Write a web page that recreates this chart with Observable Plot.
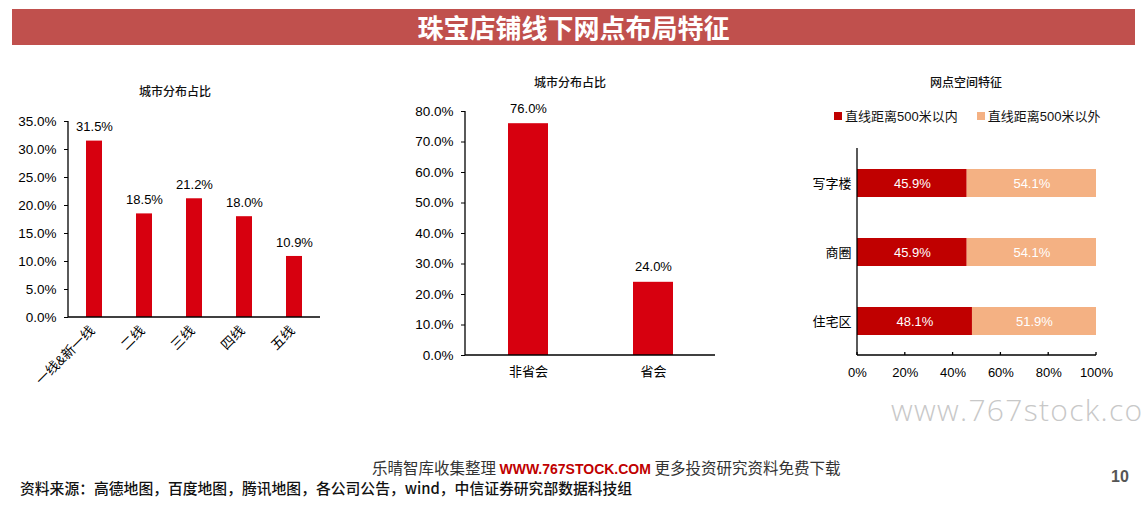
<!DOCTYPE html>
<html><head><meta charset="utf-8">
<script src="https://cdn.jsdelivr.net/npm/d3@7"></script>
<script src="https://cdn.jsdelivr.net/npm/@observablehq/plot@0.6"></script>
<style>
body{margin:0;width:1143px;height:507px;background:#fff;position:relative;overflow:hidden;font-family:"Liberation Sans","Noto Sans CJK SC",sans-serif;}
.abs{position:absolute;}
#banner{left:12px;top:9px;width:1123px;height:36px;background:#C0504D;color:#fff;font:bold 26px "Noto Sans CJK SC",sans-serif;text-align:center;line-height:36px;}
.ctitle{font:500 12px "Noto Sans CJK SC",sans-serif;color:#111;white-space:nowrap;transform:translateX(-50%);}
.legend{font:13px "Liberation Sans","Noto Sans CJK SC",sans-serif;color:#111;white-space:nowrap;display:flex;align-items:center;}
.sw{display:inline-block;width:8px;height:8px;margin-right:3px;}
svg text{font-family:"Liberation Sans","Noto Sans CJK SC",sans-serif;}
</style></head>
<body>
<div id="banner" class="abs">珠宝店铺线下网点布局特征</div>
<div class="abs ctitle" style="left:175px;top:82px;">城市分布占比</div>
<div class="abs ctitle" style="left:570px;top:73px;">城市分布占比</div>
<div class="abs ctitle" style="left:966px;top:73px;">网点空间特征</div>
<div class="abs legend" style="left:834px;top:106px;"><span class="sw" style="background:#C00000"></span>直线距离500米以内<span style="width:19px;display:inline-block"></span><span class="sw" style="background:#F4B183"></span>直线距离500米以外</div>
<div id="c1" class="abs" style="left:0;top:100px;"></div>
<div id="c2" class="abs" style="left:400px;top:95px;"></div>
<div id="c3" class="abs" style="left:780px;top:140px;"></div>
<div class="abs" style="left:891px;top:389px;font:300 30px 'Open Sans','DejaVu Sans',sans-serif;color:#c8c8c8;white-space:nowrap;letter-spacing:1.3px;">www.767stock.co</div>
<div class="abs" style="left:372px;top:456px;font:15.5px 'Noto Sans CJK SC',sans-serif;color:#333;white-space:nowrap;">乐晴智库收集整理 <b style="color:#C00000;font-family:'Liberation Sans',sans-serif;font-size:14px;">WWW.767STOCK.COM</b> 更多投资研究资料免费下载</div>
<div class="abs" style="left:20px;top:477px;font:500 14.8px 'Noto Sans CJK SC',sans-serif;color:#111;white-space:nowrap;">资料来源：高德地图，百度地图，腾讯地图，各公司公告，wind，中信证券研究部数据科技组</div>
<div class="abs" style="left:1111px;top:468px;font:bold 16px 'Liberation Sans',sans-serif;color:#555;">10</div>
<script>
// Chart 1 data
const tierCats = ["一线&新一线","二线","三线","四线","五线"];
const tierVals = [31.5, 18.5, 21.2, 18.0, 10.9];
// Chart 2 data
const capCats = ["非省会","省会"];
const capVals = [76.0, 24.0];
// Chart 3 data
const spaceCats = ["写字楼","商圈","住宅区"];
const seriesNames = ["直线距离500米以内","直线距离500米以外"];
const within500 = [45.9, 45.9, 48.1];
const beyond500 = [54.1, 54.1, 51.9];

const RED = "#D7000F";
const pct1 = d => d.toFixed(1) + "%";

function axisLines(svg, opts) {
  const sel = d3.select(svg);
  const x = svg.scale("x"), y = svg.scale("y");
  const xr = x.range, yr = y.range;
  const x0 = Math.min(...xr), x1 = Math.max(...xr);
  const yb = Math.max(...yr), yt = Math.min(...yr);
  const g = sel.append("g").attr("stroke", "#000").attr("stroke-width", 1.3);
  g.append("line").attr("x1", x0).attr("x2", x0).attr("y1", yt).attr("y2", yb);
  g.append("line").attr("x1", x0).attr("x2", x1).attr("y1", yb).attr("y2", yb);
  if (opts.xticks) {
    for (const t of opts.xticks) {
      const xx = x.apply(t);
      g.append("line").attr("x1", xx).attr("x2", xx).attr("y1", yb).attr("y2", yb - 3);
    }
  }
}

// Chart 1
const d1 = tierCats.map((c, i) => ({cat: c, v: tierVals[i]}));
const p1 = Plot.plot({
  width: 340, height: 300,
  marginLeft: 68, marginRight: 20, marginTop: 21, marginBottom: 83,
  style: {fontSize: "13px", color: "#000"},
  x: {domain: tierCats, paddingInner: 0.68, paddingOuter: 0.34, label: null},
  y: {domain: [0, 35], label: null},
  marks: [
    Plot.axisY({ticks: d3.range(0, 35.01, 5), tickFormat: pct1, tickSize: 4, tickPadding: 8, fontSize: 13.5}),
    Plot.axisX({tickSize: 0, tickRotate: -45, tickPadding: 11, dx: -2, fontSize: 13.5}),
    Plot.barY(d1, {x: "cat", y: "v", fill: RED}),
    Plot.text(d1, {x: "cat", y: "v", text: d => pct1(d.v), dy: -14, fontSize: 13, fill: "#000"})
  ]
});
document.getElementById("c1").append(p1);
axisLines(p1, {});

// Chart 2
const d2 = capCats.map((c, i) => ({cat: c, v: capVals[i]}));
const p2 = Plot.plot({
  width: 330, height: 295,
  marginLeft: 65, marginRight: 15, marginTop: 16, marginBottom: 35,
  style: {fontSize: "13px", color: "#000"},
  x: {domain: capCats, paddingInner: 0.68, paddingOuter: 0.34, label: null},
  y: {domain: [0, 80], label: null},
  marks: [
    Plot.axisY({ticks: d3.range(0, 80.01, 10), tickFormat: pct1, tickSize: 4, tickPadding: 8, fontSize: 13.5}),
    Plot.axisX({tickSize: 0, tickPadding: 11, fontSize: 13}),
    Plot.barY(d2, {x: "cat", y: "v", fill: RED}),
    Plot.text(d2, {x: "cat", y: "v", text: d => pct1(d.v), dy: -15, fontSize: 13, fill: "#000"})
  ]
});
document.getElementById("c2").append(p2);
axisLines(p2, {});

// Chart 3
const d3data = [];
spaceCats.forEach((c, i) => {
  d3data.push({cat: c, s: seriesNames[0], v: within500[i]});
  d3data.push({cat: c, s: seriesNames[1], v: beyond500[i]});
});
const p3 = Plot.plot({
  width: 363, height: 250,
  marginLeft: 77, marginRight: 47, marginTop: 8, marginBottom: 35,
  style: {fontSize: "13px", color: "#000"},
  x: {domain: [0, 100], label: null},
  y: {domain: spaceCats, paddingInner: 0.6, paddingOuter: 0.3, label: null},
  color: {domain: seriesNames, range: ["#C00000", "#F4B183"]},
  marks: [
    Plot.axisX({ticks: d3.range(0, 100.01, 20), tickFormat: d => d + "%", tickSize: 0, tickPadding: 12, fontSize: 13}),
    Plot.axisY({tickSize: 0, tickPadding: 6, fontSize: 13}),
    Plot.barX(d3data, Plot.stackX({y: "cat", x: "v", fill: "s", z: "s", order: null})),
    Plot.text(d3data, Plot.stackX({y: "cat", x: "v", z: "s", order: null, text: d => pct1(d.v), fill: "#fff", fontSize: 13}))
  ]
});
document.getElementById("c3").append(p3);
axisLines(p3, {xticks: d3.range(0, 100.01, 20)});
</script>
</body></html>
